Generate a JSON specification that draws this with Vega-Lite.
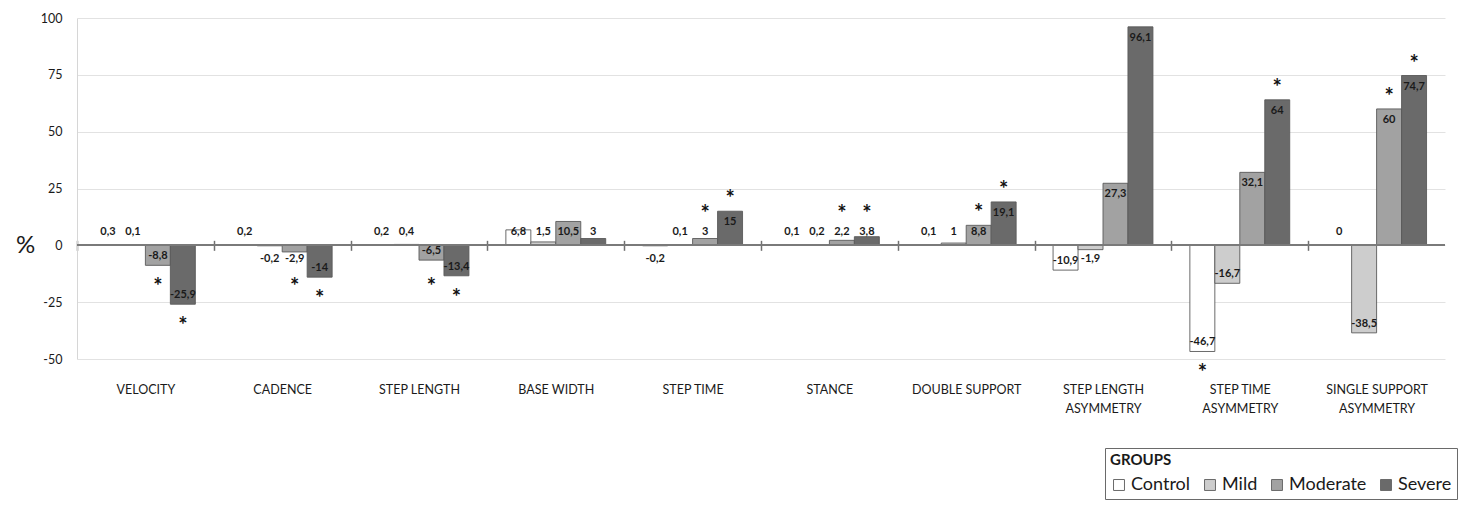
{
  "$schema": "https://vega.github.io/schema/vega-lite/v6.json",
  "width": 1368,
  "height": 341,
  "autosize": "none",
  "padding": {"left": 77, "top": 18, "right": 18, "bottom": 157},
  "background": "white",
  "config": {
    "locale": {"number": {"decimal": ",", "thousands": ".", "grouping": [3], "currency": ["", " €"], "minus": "-"}},
    "view": {"stroke": null},
    "font": "Lato",
    "axis": {"labelFont": "Lato", "titleFont": "Lato"},
    "legend": {"labelFont": "Lato", "titleFont": "Lato"}
  },
  "data": {
    "values": [
      {"param": "VELOCITY", "group": "Control", "value": 0.3, "sig": false},
      {"param": "VELOCITY", "group": "Mild", "value": 0.1, "sig": false},
      {"param": "VELOCITY", "group": "Moderate", "value": -8.8, "sig": true},
      {"param": "VELOCITY", "group": "Severe", "value": -25.9, "sig": true},
      {"param": "CADENCE", "group": "Control", "value": 0.2, "sig": false},
      {"param": "CADENCE", "group": "Mild", "value": -0.2, "sig": false},
      {"param": "CADENCE", "group": "Moderate", "value": -2.9, "sig": true},
      {"param": "CADENCE", "group": "Severe", "value": -14, "sig": true},
      {"param": "STEP LENGTH", "group": "Control", "value": 0.2, "sig": false},
      {"param": "STEP LENGTH", "group": "Mild", "value": 0.4, "sig": false},
      {"param": "STEP LENGTH", "group": "Moderate", "value": -6.5, "sig": true},
      {"param": "STEP LENGTH", "group": "Severe", "value": -13.4, "sig": true},
      {"param": "BASE WIDTH", "group": "Control", "value": 6.8, "sig": false},
      {"param": "BASE WIDTH", "group": "Mild", "value": 1.5, "sig": false},
      {"param": "BASE WIDTH", "group": "Moderate", "value": 10.5, "sig": false},
      {"param": "BASE WIDTH", "group": "Severe", "value": 3, "sig": false},
      {"param": "STEP TIME", "group": "Control", "value": -0.2, "sig": false},
      {"param": "STEP TIME", "group": "Mild", "value": 0.1, "sig": false},
      {"param": "STEP TIME", "group": "Moderate", "value": 3, "sig": true},
      {"param": "STEP TIME", "group": "Severe", "value": 15, "sig": true},
      {"param": "STANCE", "group": "Control", "value": 0.1, "sig": false},
      {"param": "STANCE", "group": "Mild", "value": 0.2, "sig": false},
      {"param": "STANCE", "group": "Moderate", "value": 2.2, "sig": true},
      {"param": "STANCE", "group": "Severe", "value": 3.8, "sig": true},
      {"param": "DOUBLE SUPPORT", "group": "Control", "value": 0.1, "sig": false},
      {"param": "DOUBLE SUPPORT", "group": "Mild", "value": 1, "sig": false},
      {"param": "DOUBLE SUPPORT", "group": "Moderate", "value": 8.8, "sig": true},
      {"param": "DOUBLE SUPPORT", "group": "Severe", "value": 19.1, "sig": true},
      {"param": "STEP LENGTH ASYMMETRY", "group": "Control", "value": -10.9, "sig": false},
      {"param": "STEP LENGTH ASYMMETRY", "group": "Mild", "value": -1.9, "sig": false},
      {"param": "STEP LENGTH ASYMMETRY", "group": "Moderate", "value": 27.3, "sig": false},
      {"param": "STEP LENGTH ASYMMETRY", "group": "Severe", "value": 96.1, "sig": false},
      {"param": "STEP TIME ASYMMETRY", "group": "Control", "value": -46.7, "sig": true},
      {"param": "STEP TIME ASYMMETRY", "group": "Mild", "value": -16.7, "sig": false},
      {"param": "STEP TIME ASYMMETRY", "group": "Moderate", "value": 32.1, "sig": false},
      {"param": "STEP TIME ASYMMETRY", "group": "Severe", "value": 64, "sig": true},
      {"param": "SINGLE SUPPORT ASYMMETRY", "group": "Control", "value": 0, "sig": false},
      {"param": "SINGLE SUPPORT ASYMMETRY", "group": "Mild", "value": -38.5, "sig": false},
      {"param": "SINGLE SUPPORT ASYMMETRY", "group": "Moderate", "value": 60, "sig": true},
      {"param": "SINGLE SUPPORT ASYMMETRY", "group": "Severe", "value": 74.7, "sig": true}
    ]
  },
  "encoding": {
    "x": {
      "field": "param",
      "type": "nominal",
      "sort": null,
      "scale": {"paddingInner": 0.27, "paddingOuter": 0.135},
      "axis": {
        "title": null,
        "orient": "bottom",
        "offset": -118.67,
        "domain": false,
        "grid": false,
        "bandPosition": 0,
        "tickOffset": -18.47,
        "tickSize": 10,
        "tickColor": "#707070",
        "tickWidth": 1.5,
        "labelOffset": 18.47,
        "labelPadding": 133,
        "labelAngle": 0,
        "labelFontSize": 12.5,
        "labelColor": "#1a1a1a",
        "labelLineHeight": 19,
        "labelExpr": "indexof(datum.label, ' ASYMMETRY') > 0 ? [slice(datum.label, 0, indexof(datum.label, ' ASYMMETRY')), 'ASYMMETRY'] : datum.label"
      }
    },
    "xOffset": {"field": "group", "type": "nominal", "sort": ["Control", "Mild", "Moderate", "Severe"], "scale": {"paddingInner": 0}}
  },
  "layer": [
    {
      "mark": {"type": "bar", "stroke": "#5a5a5a", "strokeWidth": 0.9},
      "encoding": {
        "y": {
          "field": "value",
          "type": "quantitative",
          "scale": {"domain": [-50, 100], "nice": false, "zero": true},
          "axis": {
            "values": [-50, -25, 0, 25, 50, 75, 100],
            "grid": true,
            "gridColor": "#e2e2e2",
            "gridWidth": 1,
            "domain": true,
            "domainColor": "#d6d6d6",
            "ticks": false,
            "labelPadding": 15,
            "labelFontSize": 12.5,
            "labelColor": "#1a1a1a",
            "title": "%",
            "titleAngle": 0,
            "titleFontSize": 24,
            "titleFontWeight": "normal",
            "titleColor": "#1a1a1a",
            "titleX": -52,
            "titleY": 227.3,
            "titleAlign": "center",
            "titleBaseline": "middle"
          }
        },
        "fill": {
          "field": "group",
          "type": "nominal",
          "sort": ["Control", "Mild", "Moderate", "Severe"],
          "scale": {"domain": ["Control", "Mild", "Moderate", "Severe"], "range": ["#ffffff", "#cdcdcd", "#a2a2a2", "#6a6a6a"]},
          "legend": {
            "title": "GROUPS",
            "orient": "none",
            "legendX": 1028,
            "legendY": 430,
            "direction": "horizontal",
            "titleFontSize": 15,
            "titleFontWeight": "bold",
            "titleColor": "#1a1a1a",
            "titleAnchor": "start",
            "titlePadding": 8,
            "strokeColor": "#6a6a6a",
            "padding": 5,
            "symbolType": "square",
            "symbolSize": 120,
            "symbolStrokeColor": "#6a6a6a",
            "symbolStrokeWidth": 1,
            "labelFontSize": 18,
            "labelColor": "#1a1a1a",
            "columnPadding": 10,
            "labelOffset": 3
          }
        }
      }
    },
    {
      "mark": {"type": "rule", "color": "#7a7a7a", "strokeWidth": 1.5},
      "encoding": {"y": {"datum": 0}, "x": null, "xOffset": null}
    },
    {
      "transform": [{"filter": "datum.value >= 10.5"}],
      "mark": {"type": "text", "fontSize": 11, "fontWeight": "bold", "color": "#1a1a1a", "dy": 11, "baseline": "middle"},
      "encoding": {"y": {"field": "value", "type": "quantitative"}, "text": {"field": "value", "type": "quantitative", "format": "~g"}}
    },
    {
      "transform": [{"filter": "datum.value >= 0 && datum.value < 10.5"}],
      "mark": {"type": "text", "fontSize": 11, "fontWeight": "bold", "color": "#1a1a1a", "dy": -13, "baseline": "middle"},
      "encoding": {"y": {"datum": 0}, "text": {"field": "value", "type": "quantitative", "format": "~g"}}
    },
    {
      "transform": [{"filter": "datum.value <= -6"}],
      "mark": {"type": "text", "fontSize": 11, "fontWeight": "bold", "color": "#1a1a1a", "dy": -9, "baseline": "middle"},
      "encoding": {"y": {"field": "value", "type": "quantitative"}, "text": {"field": "value", "type": "quantitative", "format": "~g"}}
    },
    {
      "transform": [{"filter": "datum.value < 0 && datum.value > -6"}],
      "mark": {"type": "text", "fontSize": 11, "fontWeight": "bold", "color": "#1a1a1a", "dy": 14, "baseline": "middle"},
      "encoding": {"y": {"datum": 0}, "text": {"field": "value", "type": "quantitative", "format": "~g"}}
    },
    {
      "transform": [{"filter": "datum.sig && datum.value >= 7.5"}],
      "mark": {"type": "text", "fontSize": 22, "fontWeight": "bold", "color": "#111111", "dy": -12, "baseline": "middle", "text": "*"},
      "encoding": {"y": {"field": "value", "type": "quantitative"}}
    },
    {
      "transform": [{"filter": "datum.sig && datum.value >= 0 && datum.value < 7.5"}],
      "mark": {"type": "text", "fontSize": 22, "fontWeight": "bold", "color": "#111111", "dy": -31, "baseline": "middle", "text": "*"},
      "encoding": {"y": {"datum": 0}}
    },
    {
      "transform": [{"filter": "datum.sig && datum.value <= -8.8"}],
      "mark": {"type": "text", "fontSize": 22, "fontWeight": "bold", "color": "#111111", "dy": 22, "baseline": "middle", "text": "*"},
      "encoding": {"y": {"field": "value", "type": "quantitative"}}
    },
    {
      "transform": [{"filter": "datum.sig && datum.value < 0 && datum.value > -8.8"}],
      "mark": {"type": "text", "fontSize": 22, "fontWeight": "bold", "color": "#111111", "dy": 42, "baseline": "middle", "text": "*"},
      "encoding": {"y": {"datum": 0}}
    }
  ]
}
